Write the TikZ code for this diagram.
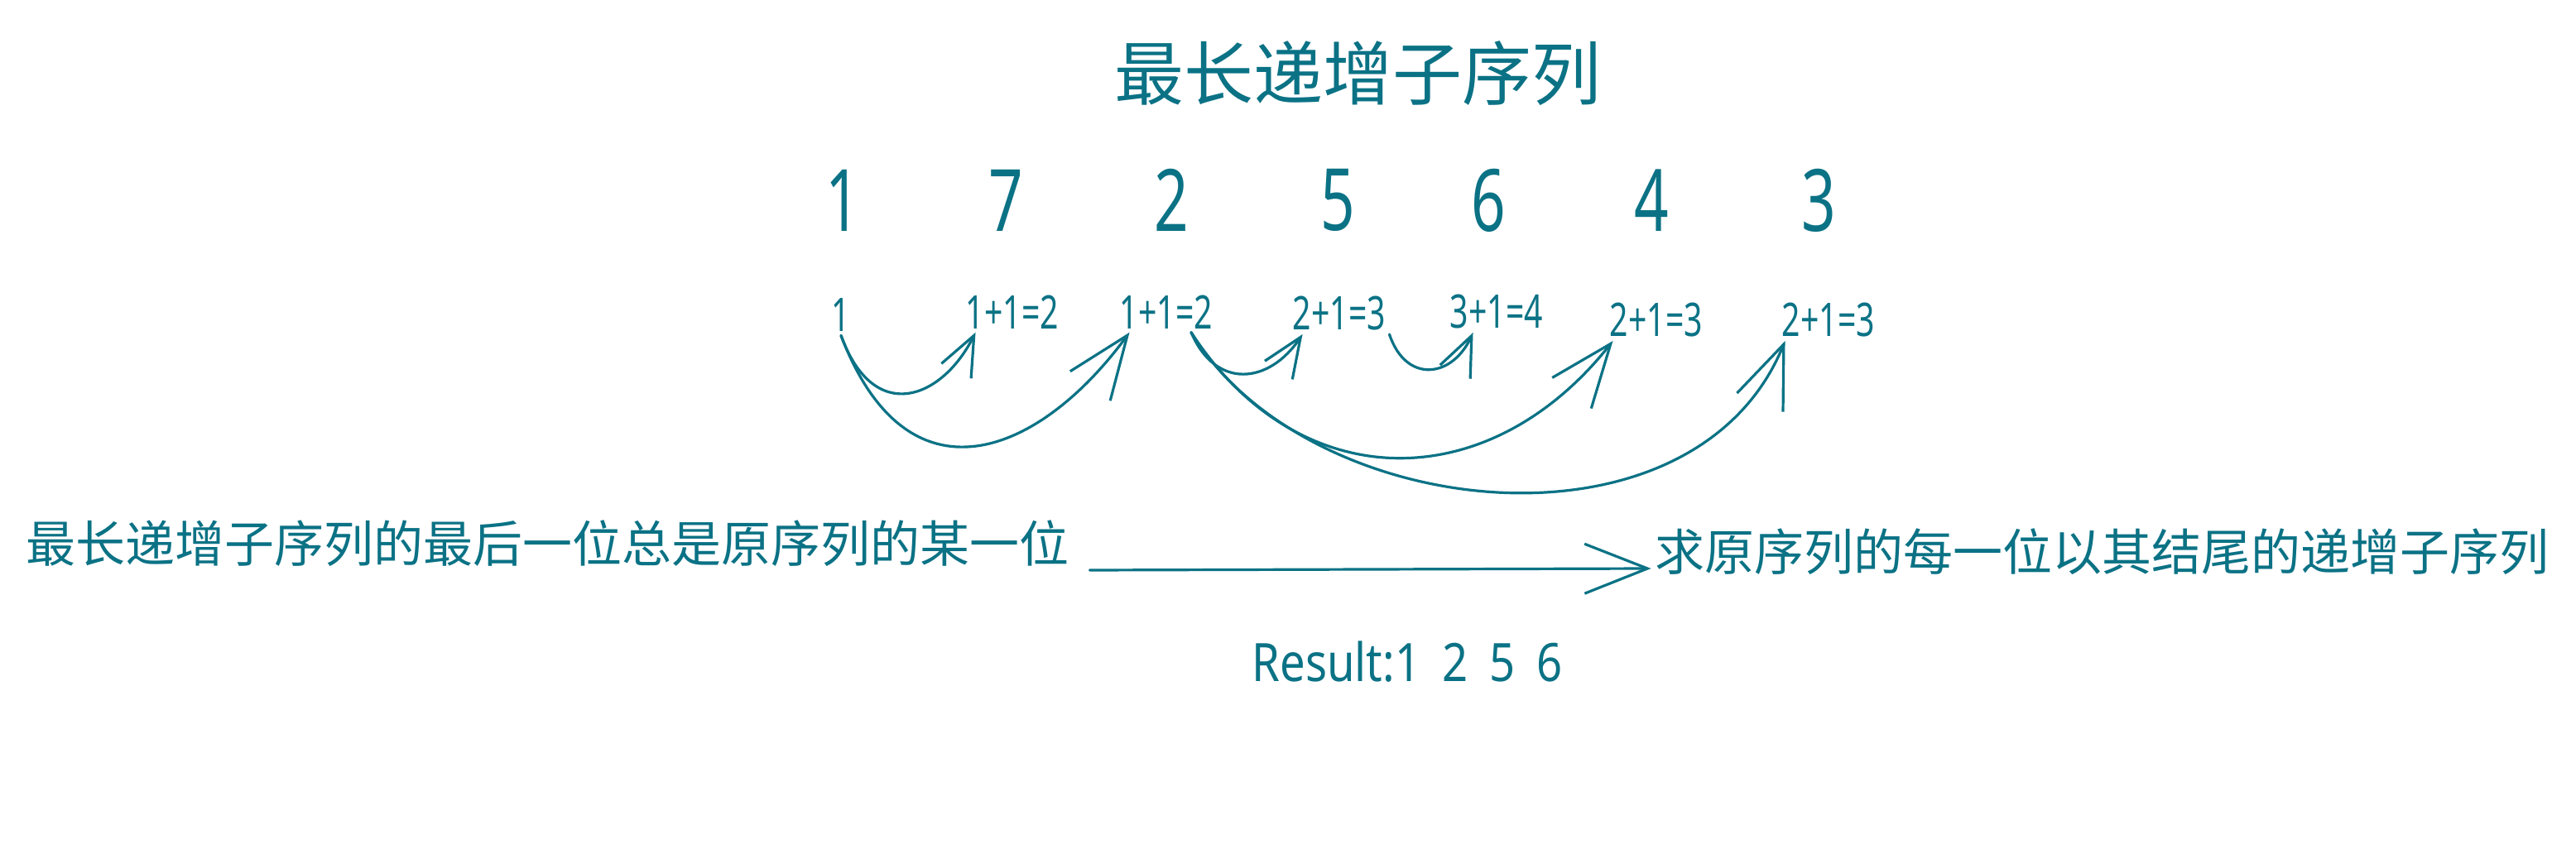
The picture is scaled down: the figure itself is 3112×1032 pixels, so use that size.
\documentclass[tikz,border=0pt]{standalone}
\usepackage{fontspec}
\usepackage{tikz}
\usetikzlibrary{arrows.meta}

\newfontfamily\cjkfont{Noto Sans CJK SC}
\newfontfamily\numfont[FakeStretch=0.7]{Noto Sans}
\newfontfamily\resfont[FakeStretch=0.85]{Noto Sans}
\definecolor{listeal}{HTML}{0B7285}

\tikzset{
  title/.style={text=listeal, inner sep=2pt, font=\cjkfont\fontsize{42pt}{50pt}\selectfont},
  seqnum/.style={text=listeal, inner sep=2pt, font=\numfont\fontsize{52pt}{60pt}\selectfont},
  lenlabel/.style={text=listeal, inner sep=2pt, font=\numfont\fontsize{28pt}{34pt}\selectfont},
  note/.style={text=listeal, inner sep=2pt, font=\cjkfont\fontsize{30pt}{36pt}\selectfont},
  result/.style={text=listeal, inner sep=2pt, font=\resfont\fontsize{32pt}{38pt}\selectfont},
  sketch/.style={draw=listeal, line width=1.6pt, line cap=round, line join=round},
  smallhead/.style={-{Straight Barb[length=24pt,width=20pt]}},
  bighead/.style={-{Straight Barb[length=38pt,width=30pt]}}
}

\begin{document}
\begin{tikzpicture}[x=0.5pt, y=-0.5pt]
\useasboundingbox (0,0) rectangle (3112,1032);

% Title
\node[title] (title) at (1640,89) {最长递增子序列};

% Sequence
\node[seqnum] (n1) at (1018,242) {1};
\node[seqnum] (n2) at (1215,242) {7};
\node[seqnum] (n3) at (1415,242) {2};
\node[seqnum] (n4) at (1616,242) {5};
\node[seqnum] (n5) at (1798,242) {6};
\node[seqnum] (n6) at (1995,242) {4};
\node[seqnum] (n7) at (2197,242) {3};

% Lengths ending at each position
\node[lenlabel] (l1) at (1016,381) {1};
\node[lenlabel] (l2) at (1223,377) {1+1=2};
\node[lenlabel] (l3) at (1409,377) {1+1=2};
\node[lenlabel] (l4) at (1618,379) {2+1=3};
\node[lenlabel] (l5) at (1808,377) {3+1=4};
\node[lenlabel] (l6) at (2001,387) {2+1=3};
\node[lenlabel] (l7) at (2209,387) {2+1=3};

% Arrows between lengths
\draw[sketch, smallhead] (l1.south) .. controls +(40,110) and +(-40,80) .. ([xshift=8pt]l2.south west);
\draw[sketch, bighead] (l1.south) .. controls +(80,210) and +(-110,150) .. ([xshift=8pt]l3.south west);
\draw[sketch, smallhead] ([xshift=15pt]l3.south) .. controls +(30,70) and +(-40,60) .. ([xshift=8pt]l4.south west);
\draw[sketch, smallhead] (l4.south east) .. controls +(20,60) and +(-25,55) .. ([xshift=16pt]l5.south west);
\draw[sketch, bighead] ([xshift=15pt]l3.south) .. controls +(130,200) and +(-150,190) .. ([xshift=4pt]l6.south west);
\draw[sketch, bighead] ([xshift=15pt]l3.south) .. controls +(140,230) and +(-110,270) .. ([xshift=4pt]l7.south west);

% Notes
\node[note] (last) at (662,657) {最长递增子序列的最后一位总是原序列的某一位};
\node[note] (each) at (2539,667) {求原序列的每一位以其结尾的递增子序列};
\draw[sketch, bighead] ([xshift=10pt, yshift=-16pt]last.east) -- ([yshift=-10pt]each.west);

% Result
\node[result] (res) at (1700,800) {Result:1\hspace{13pt}2\hspace{13pt}5\hspace{13pt}6};
\end{tikzpicture}
\end{document}
